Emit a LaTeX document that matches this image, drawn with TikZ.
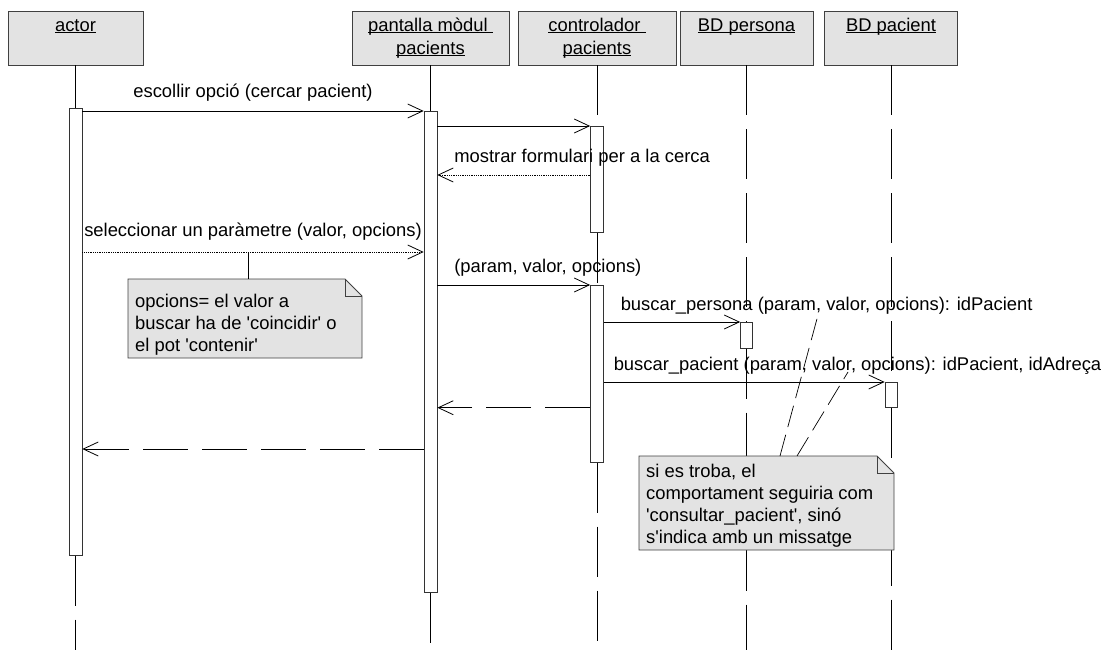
\documentclass[tikz,border=0pt]{standalone}
\usepackage{fontspec}
\setmainfont{Liberation Sans}
\usetikzlibrary{arrows.meta}
\newcommand{\ul}[1]{\underline{\smash{#1}}}
\newcommand{\q}{\textquotesingle}
\tikzset{
  head/.style={draw=black!75, line width=0.8pt, fill=black!11,
    minimum height=54pt, inner sep=0pt, align=center, font=\fontsize{18.4}{23}\selectfont},
  act/.style={draw=black!80, fill=white, line width=0.7pt, minimum width=13pt, inner sep=0pt},
  life/.style={line width=0.8pt, dash pattern=on 50pt off 14pt},
  msg/.style={line width=0.8pt, -{Straight Barb[length=15pt,width=14pt]}},
  ret/.style={msg, dash pattern=on 45pt off 14pt},
  lbl/.style={inner sep=0pt},
  notebox/.style={draw=black!75, line width=0.8pt, fill=black!11},
  notetext/.style={inner sep=0pt, align=left},
  anchorline/.style={line width=0.7pt, dash pattern=on 22pt off 8pt}
}
\begin{document}
\begin{tikzpicture}[x=1pt, y=-1pt, font=\fontsize{18.4}{22}\selectfont]
    \useasboundingbox (0,0) rectangle (1109,650);
    % objects
    \node[head, minimum width=135pt] (actor) at (75.5,38) {\ul{actor}\strut\\\strut};
    \node[head, minimum width=157pt] (pantalla) at (430.5,38) {\ul{pantalla mòdul\ }\strut\\\ul{pacients}\strut};
    \node[head, minimum width=158pt] (control) at (597,38) {\ul{controlador\ }\strut\\\ul{pacients}\strut};
    \node[head, minimum width=133pt] (persona) at (746.5,38) {\ul{BD persona}\strut\\\strut};
    \node[head, minimum width=133pt] (pacient) at (891,38) {\ul{BD pacient}\strut\\\strut};
    % activations
    \node[act, minimum height=447pt, anchor=north] (actA) at (75.5,108) {};
    \node[act, minimum height=481pt, anchor=north] (panA) at (430.5,111) {};
    \node[act, minimum height=106pt, anchor=north] (ctlA) at (597,126) {};
    \node[act, minimum height=177pt, anchor=north] (ctlB) at (597,285) {};
    \node[act, minimum height=26pt, minimum width=12pt, anchor=north] (perA) at (746.5,322) {};
    \node[act, minimum height=25pt, minimum width=12pt, anchor=north] (pacA) at (891,382) {};
    % lifelines
    \coordinate (bottom) at (0,650);
    \draw[life] (actor.south) -- (actA.north) (actA.south) -- (actA.south |- bottom);
    \draw[life] (pantalla.south) -- (panA.north) (panA.south) -- (panA.south |- bottom);
    \draw[life] (control.south) -- (ctlA.north) (ctlA.south) -- (ctlB.north) (ctlB.south) -- (ctlB.south |- bottom);
    \draw[life] (persona.south) -- (perA.north) (perA.south) -- (perA.south |- bottom);
    \draw[life] (pacient.south) -- (pacA.north) (pacA.south) -- (pacA.south |- bottom);
    % messages
    \coordinate (y3) at (0,175);
    \coordinate (y4) at (0,252);
    \coordinate (y9) at (0,449);
    \draw[msg] (actA.east |- panA.north) -- node[lbl, midway, anchor=base, yshift=13pt] {escollir opció (cercar pacient)} (panA.north west);
    \draw[msg] (panA.east |- ctlA.north) -- (ctlA.north west);
    \draw[msg, densely dotted] (ctlA.west |- y3) -- node[lbl, at end, anchor=base west, xshift=16.5pt, yshift=12pt] {mostrar formulari per a la cerca} (panA.east |- y3);
    \draw[msg, densely dotted] (actA.east |- y4) -- node[lbl, midway, anchor=base, yshift=16pt] {seleccionar un paràmetre (valor, opcions)} (panA.west |- y4);
    \draw[msg] (panA.east |- ctlB.north) -- node[lbl, at start, anchor=base west, xshift=16.5pt, yshift=13pt] {(param, valor, opcions)} (ctlB.north west);
    \draw[msg] (ctlB.east |- perA.north) -- node[lbl, at start, anchor=base west, xshift=16.5pt, yshift=12pt] {buscar\_persona (param, valor, opcions): idPacient} (perA.north west);
    \draw[msg] (ctlB.east |- pacA.north) -- node[lbl, at start, anchor=base west, xshift=9.5pt, yshift=12pt] {buscar\_pacient (param, valor, opcions): idPacient, idAdreça} (pacA.north west);
    \draw[ret] (ctlB.west |- pacA.south) -- (panA.east |- pacA.south);
    \draw[ret] (panA.west |- y9) -- (actA.east |- y9);
    % note on the parameters
    \draw[notebox] (128,279) -- (345,279) -- (362,296) -- (362,358) -- (128,358) -- cycle;
    \draw[line width=0.8pt, black!75] (345,279) |- (362,296);
    \node[notetext, anchor=north west] (note1) at (135,291.6) {\strut opcions= el valor a\\buscar ha de \q coincidir\q{} o\\el pot \q contenir\q};
    \coordinate (n1top) at (248,279);
    \draw[line width=0.7pt] (n1top) -- (n1top |- y4);
    % note on the search result
    \draw[notebox] (639,456) -- (877,456) -- (894,473) -- (894,550) -- (639,550) -- cycle;
    \draw[line width=0.8pt, black!75] (877,456) |- (894,473);
    \node[notetext, anchor=north west] (note2) at (646,461.6) {\strut si es troba, el\\comportament seguiria com\\\q consultar\_pacient\q, sinó\\s\q indica amb un missatge};
    \coordinate (n2a) at (780,456);
    \coordinate (n2b) at (797,456);
    \coordinate (persLbl) at (818,315);
    \coordinate (pacLbl) at (848,372);
    \draw[anchorline] (n2a) -- (persLbl);
    \draw[anchorline] (n2b) -- (pacLbl);
  \end{tikzpicture}
\end{document}
